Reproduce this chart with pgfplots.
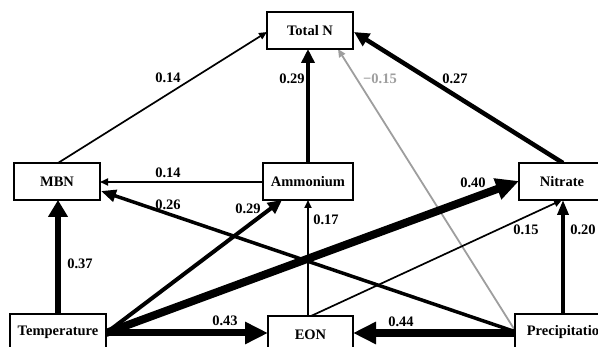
\documentclass[border=0pt]{standalone}
\usepackage{pgfplots}
\pgfplotsset{compat=1.18}
\usepackage{fontspec}
\setmainfont{Liberation Serif}
\usetikzlibrary{arrows.meta}
\definecolor{pgray}{RGB}{158,158,158}
\begin{document}
\begin{tikzpicture}[font=\fontsize{14.5}{17}\selectfont\bfseries,
  box/.style={draw, line width=1.4pt, fill=white, inner sep=0pt, minimum height=37pt},
  lab/.style={inner sep=0pt, anchor=center}]
\begin{axis}[
  at={(0,0)}, anchor=south west,
  scale only axis, width=598pt, height=347pt,
  xmin=0, xmax=598, ymin=0, ymax=347, y dir=reverse,
  axis lines=none, clip=false,
]
\path (axis cs:0,0) rectangle (axis cs:598,347);
% MBN -> Total N
\addplot[line width=1.7pt, -{Triangle[length=8pt,width=7pt]}] coordinates {(58,163) (267,32)};
% Ammonium -> Total N
\addplot[line width=4pt, -{Triangle[length=14pt,width=13pt]}] coordinates {(308,163) (308,49)};
% Nitrate -> Total N
\addplot[line width=4.5pt, -{Triangle[length=15pt,width=14pt]}] coordinates {(563,163) (354,32)};
% Precipitation -> Total N (negative)
\addplot[pgray, line width=1.8pt, -{Triangle[length=8pt,width=7pt]}] coordinates {(516,332) (338,49)};
% Ammonium -> MBN
\addplot[line width=1.7pt, -{Triangle[length=8pt,width=7pt]}] coordinates {(263,182) (100,182)};
% Precipitation -> MBN
\addplot[line width=3.5pt, -{Triangle[length=15pt,width=12pt]}] coordinates {(516,332) (101,191)};
% Temperature -> MBN
\addplot[line width=5.5pt, -{Triangle[length=17pt,width=19pt]}] coordinates {(58,314) (58,200)};
% Temperature -> Ammonium
\addplot[line width=4pt, -{Triangle[length=14pt,width=13pt]}] coordinates {(106,333) (282,200)};
% Temperature -> Nitrate
\addplot[line width=8pt, -{Triangle[length=23pt,width=21pt]}] coordinates {(106,333) (519,181)};
% Temperature -> EON
\addplot[line width=7pt, -{Triangle[length=23pt,width=21pt]}] coordinates {(106,333) (268,333)};
% EON -> Ammonium
\addplot[line width=1.7pt, -{Triangle[length=8pt,width=7pt]}] coordinates {(308,316) (308,200)};
% EON -> Nitrate
\addplot[line width=1.7pt, -{Triangle[length=8pt,width=7pt]}] coordinates {(311,316) (562,200)};
% Precipitation -> Nitrate
\addplot[line width=3.5pt, -{Triangle[length=15pt,width=11pt]}] coordinates {(563,314) (563,200)};
% Precipitation -> EON
\addplot[line width=7.5pt, -{Triangle[length=23pt,width=21pt]}] coordinates {(515,333) (353,333)};

% boxes
\node[box, minimum width=86pt] at (axis cs:310,30.5) {Total N};
\node[box, minimum width=86pt] at (axis cs:57,181.5) {MBN};
\node[box, minimum width=90pt] at (axis cs:308,181.5) {Ammonium};
\node[box, minimum width=86pt, overlay] at (axis cs:562,181.5) {Nitrate};
\node[box, minimum width=96pt, overlay] at (axis cs:58,332.5) {Temperature};
\node[box, minimum width=85pt, overlay] at (axis cs:310.5,334.5) {EON};
\node[box, minimum width=104pt, overlay] at (axis cs:567,332.5) {Precipitation};

% coefficients
\node[lab] at (axis cs:168,78) {0.14};
\node[lab] at (axis cs:292,79) {0.29};
\node[lab, text=pgray] at (axis cs:380,79) {−0.15};
\node[lab] at (axis cs:455,79) {0.27};
\node[lab] at (axis cs:168,173) {0.14};
\node[lab] at (axis cs:168,205) {0.26};
\node[lab] at (axis cs:248,209) {0.29};
\node[lab] at (axis cs:80,264) {0.37};
\node[lab] at (axis cs:473,183) {0.40};
\node[lab] at (axis cs:326,220) {0.17};
\node[lab] at (axis cs:526,230) {0.15};
\node[lab] at (axis cs:583,230) {0.20};
\node[lab] at (axis cs:225,321) {0.43};
\node[lab] at (axis cs:401,322) {0.44};
\end{axis}
\end{tikzpicture}
\end{document}
